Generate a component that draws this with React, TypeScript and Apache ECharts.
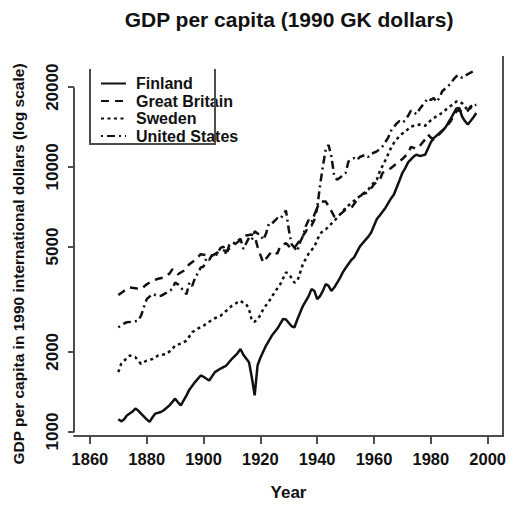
import React, { useEffect, useRef } from "react";
import * as echarts from "echarts";

const titleText = "GDP per capita (1990 GK dollars)";
const xTitle = "Year";
const yTitle = "GDP per capita in 1990 international dollars (log scale)";
const seriesNames = ["Finland", "Great Britain", "Sweden", "United States"];
const xTicks = [1860, 1880, 1900, 1920, 1940, 1960, 1980, 2000];
const yTicks = [1000, 2000, 5000, 10000, 20000];
const xRange = [1854.4, 2005.4];
const yRange = [962, 26240];

const finlandYears = [1870, 1871, 1872, 1873, 1875, 1876, 1877, 1878, 1880, 1881, 1882, 1883, 1885, 1886, 1888, 1890, 1891, 1892, 1894, 1895, 1897, 1899, 1900, 1901, 1902, 1904, 1906, 1908, 1910, 1912, 1913, 1914, 1916, 1917, 1918, 1919, 1920, 1922, 1924, 1926, 1928, 1929, 1931, 1932, 1933, 1935, 1937, 1938, 1939, 1940, 1941, 1942, 1943, 1944, 1945, 1946, 1948, 1949, 1950, 1952, 1953, 1955, 1957, 1958, 1959, 1961, 1962, 1964, 1966, 1967, 1969, 1970, 1971, 1972, 1974, 1975, 1976, 1977, 1978, 1980, 1981, 1983, 1985, 1987, 1989, 1990, 1991, 1992, 1993, 1994, 1995, 1996];
const finlandValues = [1112, 1093, 1110, 1150, 1190, 1221, 1200, 1169, 1112, 1088, 1130, 1169, 1185, 1203, 1256, 1331, 1290, 1256, 1370, 1440, 1538, 1629, 1610, 1583, 1560, 1677, 1730, 1776, 1883, 1980, 2050, 1950, 1829, 1600, 1370, 1776, 1900, 2113, 2300, 2450, 2664, 2650, 2500, 2477, 2650, 2987, 3250, 3453, 3400, 3164, 3250, 3400, 3606, 3550, 3398, 3500, 3800, 3992, 4150, 4450, 4550, 5000, 5300, 5450, 5650, 6350, 6550, 7000, 7600, 7863, 8900, 9500, 9894, 10400, 10957, 11121, 11000, 11050, 11121, 12400, 12841, 13400, 14020, 15200, 16630, 16700, 15500, 14900, 14450, 14900, 15400, 15972];

const britainYears = [1870, 1872, 1874, 1876, 1878, 1880, 1882, 1884, 1886, 1888, 1889, 1891, 1893, 1895, 1897, 1899, 1901, 1903, 1905, 1906, 1908, 1910, 1913, 1915, 1917, 1918, 1919, 1920, 1921, 1922, 1924, 1926, 1927, 1929, 1931, 1932, 1934, 1936, 1937, 1938, 1939, 1940, 1941, 1943, 1944, 1945, 1946, 1947, 1948, 1950, 1952, 1954, 1956, 1958, 1960, 1962, 1963, 1966, 1968, 1970, 1972, 1973, 1974, 1975, 1976, 1978, 1979, 1980, 1981, 1983, 1985, 1987, 1988, 1989, 1990, 1991, 1992, 1993, 1994, 1995, 1996];
const britainValues = [3278, 3400, 3502, 3480, 3453, 3600, 3710, 3780, 3817, 3950, 4102, 3930, 4050, 4290, 4450, 4677, 4640, 4617, 4750, 4881, 4800, 5000, 5300, 5500, 5550, 5475, 5000, 4650, 4349, 4500, 4800, 4700, 5020, 5150, 4900, 4950, 5300, 5700, 5978, 6000, 6300, 7000, 7400, 7400, 7100, 6810, 6500, 6450, 6600, 6900, 7000, 7500, 7900, 8000, 8600, 8900, 9490, 9900, 10300, 10700, 11280, 11900, 11800, 11700, 11960, 12700, 13250, 12900, 12700, 13300, 14000, 14880, 15700, 16200, 16400, 16100, 16000, 16300, 16900, 17200, 17500];

const swedenYears = [1870, 1871, 1872, 1874, 1876, 1877, 1878, 1880, 1882, 1884, 1887, 1889, 1890, 1892, 1894, 1896, 1898, 1900, 1902, 1904, 1906, 1908, 1910, 1912, 1913, 1914, 1915, 1916, 1917, 1918, 1919, 1920, 1921, 1923, 1925, 1927, 1929, 1930, 1931, 1932, 1933, 1935, 1937, 1939, 1941, 1943, 1945, 1947, 1950, 1952, 1954, 1956, 1958, 1959, 1961, 1962, 1964, 1966, 1967, 1969, 1971, 1973, 1976, 1978, 1980, 1982, 1984, 1986, 1988, 1989, 1990, 1991, 1992, 1993, 1994, 1995, 1996];
const swedenValues = [1677, 1802, 1850, 1937, 1910, 1850, 1802, 1855, 1880, 1937, 1965, 2050, 2113, 2150, 2205, 2371, 2450, 2512, 2600, 2680, 2739, 2860, 2987, 3080, 3120, 3060, 3030, 2900, 2623, 2600, 2664, 2750, 2902, 3100, 3357, 3600, 3992, 3950, 3800, 3655, 3700, 4300, 4700, 5000, 5600, 5800, 6100, 6420, 7000, 7300, 7600, 7900, 8200, 8500, 8950, 9600, 10600, 11800, 12315, 13100, 13603, 14200, 14450, 14300, 15000, 15538, 16000, 16700, 17300, 17671, 17700, 17400, 16900, 16367, 16700, 17000, 17178];

const usYears = [1870, 1872, 1873, 1875, 1877, 1878, 1879, 1880, 1882, 1884, 1885, 1887, 1889, 1890, 1891, 1893, 1894, 1895, 1896, 1897, 1899, 1900, 1901, 1902, 1903, 1904, 1906, 1907, 1908, 1909, 1910, 1911, 1913, 1914, 1916, 1917, 1918, 1919, 1920, 1921, 1922, 1923, 1924, 1926, 1927, 1929, 1930, 1931, 1932, 1933, 1934, 1935, 1936, 1937, 1938, 1939, 1940, 1941, 1942, 1943, 1944, 1945, 1946, 1947, 1948, 1949, 1950, 1951, 1952, 1953, 1954, 1955, 1957, 1958, 1959, 1961, 1963, 1965, 1966, 1968, 1969, 1970, 1971, 1972, 1973, 1974, 1975, 1976, 1978, 1979, 1980, 1981, 1982, 1983, 1984, 1986, 1987, 1988, 1989, 1990, 1991, 1992, 1994, 1995, 1996];
const usValues = [2477, 2560, 2588, 2600, 2623, 2739, 2950, 3164, 3310, 3250, 3258, 3350, 3453, 3655, 3600, 3398, 3300, 3655, 3550, 3800, 4167, 4200, 4529, 4450, 4650, 4550, 4946, 5000, 4650, 5050, 5178, 5150, 5350, 4900, 5400, 5300, 5708, 5600, 5550, 5300, 5600, 6100, 6100, 6400, 6350, 6850, 5800, 5100, 4946, 4800, 5200, 5475, 5978, 6300, 6150, 6600, 7000, 8500, 10050, 11640, 12100, 10960, 9220, 8950, 9100, 9300, 9480, 10480, 10650, 10800, 10600, 10900, 11120, 10900, 11200, 11440, 11960, 12900, 13700, 14600, 14900, 14700, 15000, 15600, 16300, 16100, 15800, 16500, 17600, 18170, 17900, 18200, 17600, 18200, 19300, 20170, 20600, 21400, 22000, 22200, 21700, 22100, 22700, 23000, 23240];

const seriesYears = [finlandYears, britainYears, swedenYears, usYears];
const seriesValues = [finlandValues, britainValues, swedenValues, usValues];

export default function App() {
  const ref = useRef<HTMLDivElement>(null);
  useEffect(() => {
    const chart = echarts.init(ref.current as HTMLDivElement, null, { renderer: "svg" });
    const font = "'Liberation Sans', Arial, Helvetica, sans-serif";
    const ink = "#111111";
    const axisColor = "#4d4d4d";
    const dashes: any[] = ["solid", [8, 6], [3, 3.5], [2, 4, 8, 4]];
    const series = seriesNames.map((name, k) => ({
      name,
      type: "line",
      showSymbol: false,
      symbol: "none",
      data: seriesYears[k].map((yr, i) => [yr, seriesValues[k][i]]),
      lineStyle: { color: ink, width: 2.5, type: dashes[k] },
      itemStyle: { color: ink },
      z: 3,
    }));
    chart.setOption({
      animation: false,
      backgroundColor: "#ffffff",
      textStyle: { fontFamily: font },
      title: {
        text: titleText,
        left: 289,
        textAlign: "center",
        top: 9,
        padding: 0,
        textStyle: { fontFamily: font, fontSize: 21, fontWeight: "bold", color: ink },
      },
      legend: {
        orient: "vertical",
        left: 100,
        top: 75.5,
        padding: 0,
        itemWidth: 25,
        itemHeight: 14,
        itemGap: 1.5,
        data: seriesNames,
        itemStyle: { opacity: 0 },
        textStyle: { fontFamily: font, fontSize: 16, fontWeight: "bold", color: ink, lineHeight: 14, padding: [0, 0, 0, 5] },
      },
      grid: { left: 74, right: 6, top: 56, bottom: 68.5, containLabel: false },
      xAxis: {
        type: "value",
        min: xRange[0],
        max: xRange[1],
        name: xTitle,
        nameLocation: "middle",
        nameGap: 48,
        nameTextStyle: { fontFamily: font, fontSize: 17, fontWeight: "bold", color: ink },
        axisLine: { show: true, lineStyle: { color: axisColor, width: 2 } },
        axisTick: { show: true, length: 8, customValues: xTicks, lineStyle: { color: axisColor, width: 2 } },
        axisLabel: { customValues: xTicks, margin: 14, fontFamily: font, fontSize: 16.5, fontWeight: "bold", color: ink, formatter: (v: number) => String(Math.round(v)) },
        splitLine: { show: false },
      },
      yAxis: {
        type: "log",
        logBase: 10,
        min: yRange[0],
        max: yRange[1],
        axisLine: { show: false },
        axisTick: { show: true, length: 6, customValues: yTicks, lineStyle: { color: axisColor, width: 2 } },
        axisLabel: { customValues: yTicks, rotate: 90, margin: 13, fontFamily: font, fontSize: 17, fontWeight: "bold", color: ink, formatter: (v: number) => String(Math.round(v)) },
        splitLine: { show: false },
        minorTick: { show: false },
      },
      series,
    });
    const toPx = (p: number[]) => chart.convertToPixel({ xAxisIndex: 0, yAxisIndex: 0 }, p) as number[];
    const a = toPx([xRange[0], yTicks[0]]);
    const b = toPx([xRange[0], yTicks[yTicks.length - 1]]);
    const c = toPx([xRange[1], yRange[0]]);
    const d = toPx([xRange[1], yRange[1]]);
    chart.setOption({
      graphic: [
        {
          id: "yline",
          type: "line",
          shape: { x1: a[0], y1: a[1] + 1, x2: b[0], y2: b[1] },
          style: { stroke: axisColor, lineWidth: 2 },
          z: 10,
        },
        {
          id: "rline",
          type: "line",
          shape: { x1: c[0], y1: c[1] + 1, x2: d[0], y2: d[1] },
          style: { stroke: axisColor, lineWidth: 2 },
          z: 10,
        },
        {
          id: "legendbox",
          type: "polyline",
          shape: { points: [[90, 69], [90, 144], [215, 144], [215, 69]] },
          style: { stroke: axisColor, lineWidth: 2, fill: "none" },
          z: 10,
        },
        {
          id: "ytitle",
          type: "text",
          x: 18,
          y: 264,
          rotation: Math.PI / 2,
          style: { text: yTitle, align: "center", verticalAlign: "middle", font: `bold 15.5px ${font}`, fill: ink },
          z: 10,
        },
      ],
    });
    return () => chart.dispose();
  }, []);
  return <div ref={ref} style={{ position: "fixed", left: 0, top: 0, width: 509, height: 506 }} />;
}
